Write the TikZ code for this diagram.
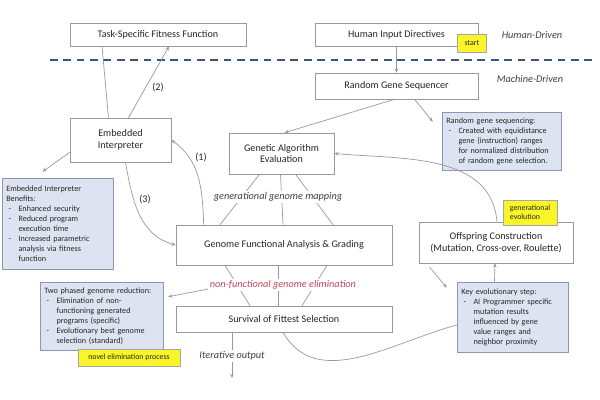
\documentclass[tikz,border=0pt]{standalone}
\usepackage{fontspec}
\setmainfont{Carlito}
\usetikzlibrary{arrows.meta,calc}
\definecolor{notefill}{RGB}{221,227,241}
\definecolor{notedraw}{RGB}{140,150,175}
\definecolor{hilite}{RGB}{250,245,40}
\definecolor{elimred}{RGB}{195,70,90}
\definecolor{divider}{RGB}{60,85,125}
% dash item and indented follow-on line for the note boxes
\newcommand{\notedash}{\par\noindent\makebox[1.5em][l]{\hspace{0.3em}-}}
\newcommand{\notecont}{\par\noindent\hspace*{1.5em}}

\begin{document}
\begin{tikzpicture}[
    x=0.025cm, y=0.025cm,
    box/.style={draw=black!40, fill=white, text=black!85, font=\fontsize{7.2}{8.4}\selectfont, align=center, inner sep=0pt},
    note/.style={draw=notedraw, fill=notefill, text=black!85, font=\fontsize{5.8}{7.1}\selectfont, align=left, inner xsep=3pt, inner ysep=2pt, execute at begin node=\setlength{\parindent}{0pt}},
    tag/.style={draw=black!35, fill=hilite, text=black!85, font=\fontsize{5.6}{6.6}\selectfont, align=left, inner sep=0pt},
    lbl/.style={font=\fontsize{7.3}{8.5}\selectfont\itshape, text=black!75, inner sep=1pt},
    num/.style={font=\fontsize{7.2}{8.4}\selectfont, text=black!85},
    conn/.style={draw=black!40, line width=0.5pt},
    conna/.style={conn, -{Stealth[length=3pt,width=2.5pt]}}
]
\useasboundingbox (0,0) rectangle (600,400);

% Human-driven part
\node[box, minimum width=4.4cm, minimum height=0.575cm] (fit) at (158,365.5) {Task-Specific Fitness Function};
\node[box, minimum width=4.075cm, minimum height=0.575cm] (human) at (396.5,365.5) {Human Input Directives};
\node[tag, minimum width=0.725cm, minimum height=0.45cm, align=center] (start) at (472,357) {start};
\node[lbl] (hdriven) at (532,365) {Human-Driven};

% Divider
\draw[divider, line width=1pt, dash pattern=on 5.5pt off 4pt] (50,340) -- (595,340);
\node[lbl] (mdriven) at (530,321) {Machine-Driven};

% Machine-driven part
\node[box, minimum width=4.075cm, minimum height=0.65cm] (rgs) at (396.5,314) {Random Gene Sequencer};
\node[note, text width=2.76cm, minimum height=1.45cm] (rgsnote) at (501.5,259) {Random gene sequencing:\notedash Created with equidistance\notecont gene (instruction) ranges\notecont for normalized distribution\notecont of random gene selection.};
\node[box, minimum width=2.525cm, minimum height=1.1cm] (interp) at (120.5,260) {Embedded\\Interpreter};
\node[box, minimum width=2.625cm, minimum height=1.025cm] (gae) at (281.5,246.5) {Genetic Algorithm\\Evaluation};
\node[note, text width=2.56cm, minimum height=2.275cm] (benefits) at (57.5,176.5) {Embedded Interpreter\par Benefits:\notedash Enhanced security\notedash Reduced program\notecont execution time\notedash Increased parametric\notecont analysis via fitness\notecont function};
\node[box, minimum width=5.4cm, minimum height=1cm] (gfa) at (284,155) {Genome Functional Analysis \& Grading};
\node[box, minimum width=3.85cm, minimum height=1.025cm] (offspring) at (496,157.5) {Offspring Construction\\(Mutation, Cross-over, Roulette)};
\node[tag, minimum width=1.35cm, minimum height=0.625cm, inner xsep=3pt] (genevo) at (530,187.5) {generational\\evolution};
\node[box, minimum width=5.4cm, minimum height=0.65cm] (surv) at (284,81) {Survival of Fittest Selection};
\node[note, text width=2.86cm, minimum height=1.7cm] (twophase) at (101.5,84) {Two phased genome reduction:\notedash Elimination of non-\notecont functioning generated\notecont programs (specific)\notedash Evolutionary best genome\notecont selection (standard)};
\node[tag, minimum width=2.55cm, minimum height=0.425cm, align=center] (novel) at (129,42.5) {novel elimination process};
\node[note, text width=2.56cm, minimum height=1.75cm] (keynote) at (512.5,83) {Key evolutionary step:\notedash AI Programmer specific\notecont mutation results\notecont influenced by gene\notecont value ranges and\notecont neighbor proximity};
\coordinate (itend) at (232,22);

% Interpreter and fitness function
\draw[conn] ($(interp.north)+(-12,0)$) -- ($(fit.south)+(-56,0)$);
\draw[conna] ($(interp.north)+(8,0)$) -- ($(fit.south)+(11,0)$);
\node[num] (n2) at (158,312) {(2)};
\draw[conna] ($(gfa.north west)+(28,0)$) to[out=92, in=-35] (interp.east);
\node[num] (n1) at (201,242) {(1)};
\draw[conna] ($(interp.south)+(5,0)$) to[out=-80, in=165] (gfa.west);
\node[num] (n3) at (145,200) {(3)};
\draw[conna] ($(interp.south west)+(0,10)$) -- ($(benefits.north)+(-15,6)$);

% Sequencer
\draw[conna] (human) -- (rgs);
\draw[conna] ($(rgs.south)+(-2,0)$) -- ($(gae.north)+(3,0)$);
\draw[conna] ($(rgs.south)+(18,0)$) -- ($(rgsnote.north west)+(-9,-10)$);

% Mapping fan
\draw[conn] ($(gae.south)+(-22,0)$) -- ($(gfa.north)+(-64,0)$);
\draw[conn] ($(gae.south)+(-1,0)$) -- ($(gfa.north)+(-1,0)$);
\draw[conn] ($(gae.south)+(14,0)$) -- ($(gfa.north)+(49,0)$);
\node[lbl, fill=white] (mapping) at (278,203) {generational genome mapping};

% Elimination fan
\draw[conn] ($(gfa.south)+(-59,0)$) -- ($(surv.north)+(-34,0)$);
\draw[conn] ($(gfa.south)+(-6,0)$) -- ($(surv.north)+(-6,0)$);
\draw[conn] ($(gfa.south)+(43,0)$) -- ($(surv.north)+(18,0)$);
\node[lbl, fill=white, text=elimred] (elim) at (283,115) {non-functional genome elimination};
\draw[conna] ($(elim.west)+(0,-4)$) -- ($(twophase.north east)+(5,-15)$);

% Offspring loop
\draw[conn] ($(surv.south)+(-1,0)$) to[out=-60, in=195] ($(keynote.west)+(0,-8)$);
\draw[conna] ($(offspring.south west)+(11,-4)$) -- ($(keynote.north west)+(-10,-6)$);
\draw[conna] ($(keynote.north)+(-18,0)$) -- ($(offspring.south)+(-1,0)$);
\draw[conna] ($(offspring.north)+(1,0)$) to[out=95, in=-5] (gae.east);

% Output
\draw[conna] ($(surv.south)+(-52,0)$) -- (itend);
\node[lbl, fill=white] (iterative) at (232,44) {Iterative output};

\end{tikzpicture}
\end{document}
